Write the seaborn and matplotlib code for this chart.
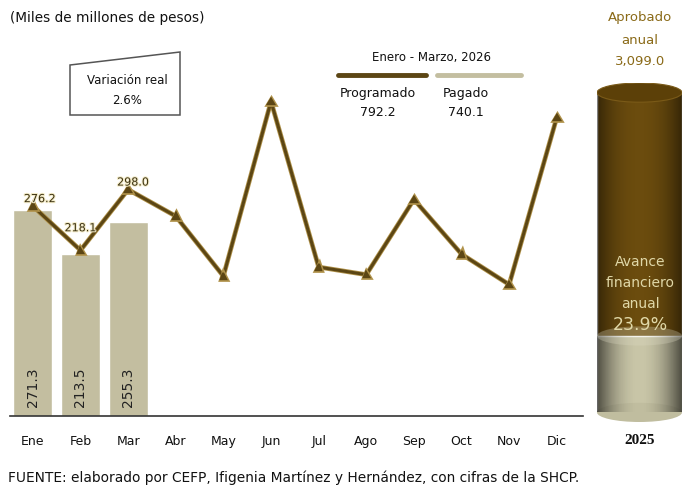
import numpy as np
import pandas as pd
import matplotlib
matplotlib.use('Agg')
import matplotlib.pyplot as plt
import matplotlib.patheffects as pe
from matplotlib.patches import Polygon, Ellipse
import seaborn as sns

# Data (miles de millones de pesos)
months = ['Ene', 'Feb', 'Mar', 'Abr', 'May', 'Jun', 'Jul', 'Ago', 'Sep', 'Oct', 'Nov', 'Dic']
programado = [276.2, 218.1, 298.0, 263.0, 184.0, 414.0, 196.0, 186.0, 285.0, 213.0, 173.0, 393.0]
pagado = [271.3, 213.5, 255.3]
total_programado = 792.2
total_pagado = 740.1
aprobado_anual = 3099.0
avance_pct = 23.9
variacion_real = 2.6

BROWN = '#5c4614'
KHAKI = '#c3bea0'
GOLD = '#8a6a18'
INK = '#111111'

sns.set_theme(style='white')
plt.rcParams['font.family'] = ['DejaVu Sans']

fig = plt.figure(figsize=(6.86, 4.87), dpi=100)
W, H = 686, 487


def fx(x):
    return x / W


def fy(y):
    return 1 - y / H


# ---- main monthly chart ----
ax = fig.add_axes([fx(10), fy(416), fx(583) - fx(10), fy(30) - fy(416)])

sns.barplot(x=months[:3], y=pagado, order=months, color=KHAKI, saturation=1,
            width=0.82, ax=ax)
sns.pointplot(x=months, y=programado, order=months, color=BROWN, markers='^',
              linestyles='-', markersize=4, linewidth=2.2, ax=ax)
for ln in ax.lines:
    ln.set_path_effects([pe.Stroke(linewidth=3.4, foreground='#b0924a'), pe.Normal()])
    ln.set_zorder(4)

for i, v in enumerate(pagado):
    ax.text(i, 38, f'{v:.1f}', rotation=90, ha='center', va='center',
            fontsize=10, color='#222222', zorder=5)

label_offsets = [(7, 2), (0, 17), (5, 2)]
for i, v in enumerate(programado[:3]):
    ax.annotate(f'{v:.1f}', (i, v), xytext=label_offsets[i], textcoords='offset pixels',
                ha='center', va='bottom', fontsize=8, color='#3a3010', zorder=6,
                path_effects=[pe.withStroke(linewidth=1.5, foreground='#f3ebc8')])

ax.set_xlim(-0.48, 11.55)
ax.set_ylim(0, 508)
ax.set_xlabel('')
ax.set_ylabel('')
ax.set_yticks([])
for s in ['top', 'right', 'left']:
    ax.spines[s].set_visible(False)
ax.spines['bottom'].set_color('#333333')
ax.spines['bottom'].set_linewidth(1.2)
ax.tick_params(axis='x', length=0, labelsize=9, pad=14, colors=INK)
ax.patch.set_alpha(0)

# ---- "Variación real" box ----
fig.patches.append(Polygon([(fx(70), fy(65)), (fx(180), fy(52)), (fx(180), fy(115)),
                            (fx(70), fy(115))], closed=True, transform=fig.transFigure,
                           facecolor='white', edgecolor='#555555', linewidth=1.1))
fig.text(fx(127), fy(80), 'Variación real', ha='center', va='center', fontsize=8.5, color=INK)
fig.text(fx(127), fy(101), f'{variacion_real}%', ha='center', va='center', fontsize=8.5, color=INK)

# ---- legend block ----
fig.text(fx(431), fy(58), 'Enero - Marzo, 2026', ha='center', va='center', fontsize=8.5, color=INK)
fig.add_artist(plt.Line2D([fx(338), fx(426)], [fy(75), fy(75)], color=BROWN, lw=3.5,
                          transform=fig.transFigure))
fig.add_artist(plt.Line2D([fx(437), fx(521)], [fy(75), fy(75)], color=KHAKI, lw=3.5,
                          transform=fig.transFigure))
fig.text(fx(378), fy(93), 'Programado', ha='center', va='center', fontsize=9, color=INK)
fig.text(fx(378), fy(112), f'{total_programado:.1f}', ha='center', va='center', fontsize=9, color=INK)
fig.text(fx(466), fy(93), 'Pagado', ha='center', va='center', fontsize=9, color=INK)
fig.text(fx(466), fy(112), f'{total_pagado:.1f}', ha='center', va='center', fontsize=9, color=INK)

fig.text(fx(10), fy(18), '(Miles de millones de pesos)', ha='left', va='center', fontsize=9.8, color=INK)

# ---- cylinder: avance financiero anual ----
ax2 = fig.add_axes([fx(597), fy(422), fx(682) - fx(597), fy(83) - fy(422)])
e = 3.0
sns.barplot(x=['2025'], y=[100], color='#6b4c0e', saturation=1, width=1.0, ax=ax2)
sns.barplot(x=['2025'], y=[avance_pct], color='#c8c5a7', saturation=1, width=1.0, ax=ax2)
ax2.set_xlim(-0.5, 0.5)
ax2.set_ylim(-e, 100 + e)

# horizontal shading to give a round look
grad = np.abs(np.linspace(-1, 1, 200)) ** 2.2
for bar, strength in zip(ax2.patches, [0.5, 0.22]):
    shade = np.zeros((1, 200, 4))
    shade[..., 3] = grad * strength
    im = ax2.imshow(shade, extent=[-0.5, 0.5, 0, bar.get_height()], aspect='auto',
                    zorder=3, interpolation='bilinear')
    im.set_clip_path(bar)
ax2.add_patch(Ellipse((0, 0), 1.0, 2 * e, facecolor='#c0bd9f', edgecolor='none', zorder=2))
ax2.add_patch(Ellipse((0, avance_pct), 1.0, 2 * e, facecolor='#dcd9c2', edgecolor='none',
                      zorder=4, alpha=0.3))
ax2.add_patch(Ellipse((0, 100), 1.0, 2 * e, facecolor='#5c4008', edgecolor='#7a5a18', lw=0.8, zorder=4))
ax2.axis('off')

fig.text(fx(640), fy(18), 'Aprobado', ha='center', va='center', fontsize=9.5, color=GOLD)
fig.text(fx(640), fy(40), 'anual', ha='center', va='center', fontsize=9.5, color=GOLD)
fig.text(fx(640), fy(62), f'{aprobado_anual:,.1f}', ha='center', va='center', fontsize=9.5, color=GOLD)
fig.text(fx(640), fy(262), 'Avance', ha='center', va='center', fontsize=10, color='#e0d8a8')
fig.text(fx(640), fy(283), 'financiero', ha='center', va='center', fontsize=10, color='#e0d8a8')
fig.text(fx(640), fy(304), 'anual', ha='center', va='center', fontsize=10, color='#e0d8a8')
fig.text(fx(640), fy(325), f'{avance_pct}%', ha='center', va='center', fontsize=12.5, color='#e0d8a8')
fig.text(fx(640), fy(440), '2025', ha='center', va='center', fontsize=11, color=INK,
         fontweight='bold', family=['Liberation Serif', 'DejaVu Serif'])

fig.text(fx(8), fy(478), 'FUENTE: elaborado por CEFP, Ifigenia Martínez y Hernández, con cifras de la SHCP.',
         ha='left', va='center', fontsize=9.9, color=INK)

fig.savefig('out.png', dpi=100)
